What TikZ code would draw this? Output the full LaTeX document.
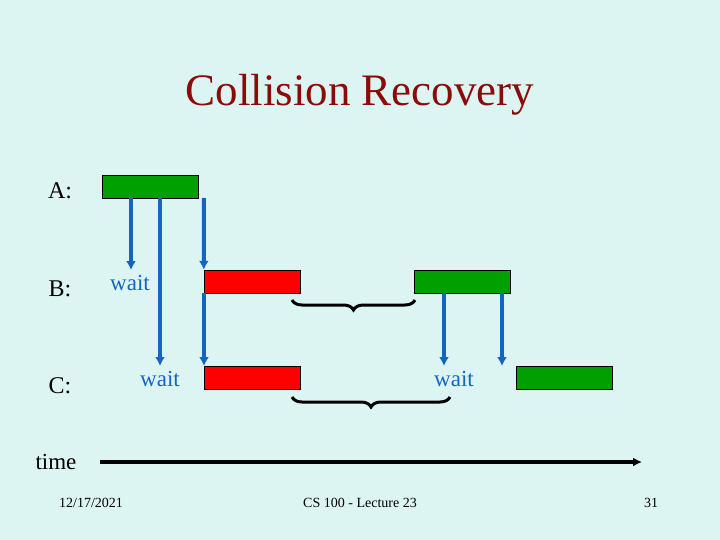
\documentclass[tikz,border=0pt]{standalone}
\usepackage{fontspec}
\setmainfont{Liberation Serif}
\usetikzlibrary{decorations.pathreplacing,arrows.meta}
\definecolor{bgcol}{HTML}{DDF5F2}
\definecolor{titlecol}{HTML}{8B0A0A}
\definecolor{waitcol}{HTML}{1565C0}
\definecolor{okcol}{HTML}{00A000}
\begin{document}
\begin{tikzpicture}[x=1pt,y=-1pt,
	frame/.style={draw, minimum width=96pt, minimum height=23pt, inner sep=0pt},
	good/.style={frame, fill=okcol},
	bad/.style={frame, fill=red},
	signal/.style={waitcol, line width=4pt, -{Latex[length=9pt,width=10pt]}},
	waitlbl/.style={waitcol, font=\fontsize{23}{23}\selectfont},
	rowlbl/.style={font=\fontsize{24}{24}\selectfont},
	foot/.style={font=\fontsize{14}{14}\selectfont},
	gap/.style={decorate, decoration={brace, amplitude=10pt, mirror}, line width=3pt}]
	\fill[bgcol] (0,0) rectangle (720,540);
	\useasboundingbox (0,0) rectangle (720,540);
	\node[titlecol, font=\fontsize{45}{45}\selectfont] (title) at (360,95) {Collision Recovery};
	\node[rowlbl] (la) at (60,191) {A:};
	\node[rowlbl] (lb) at (60,289) {B:};
	\node[rowlbl] (lc) at (60,386) {C:};
	\node[good] (a1) at (150,186.5) {};
	\node[bad] (b1) at (252,281.5) {};
	\node[good] (b2) at (462,281.5) {};
	\node[bad] (c1) at (252,377.5) {};
	\node[good] (c2) at (564,377.5) {};
	\coordinate (s1) at (131,198);
	\coordinate (e1) at (131,270);
	\coordinate (s2) at (160,198);
	\coordinate (e2) at (160,366);
	\coordinate (s3) at (204,198);
	\coordinate (s4) at (204,293);
	\coordinate (e4) at (204,366);
	\coordinate (s5) at (444,293);
	\coordinate (e5) at (444,366);
	\coordinate (s6) at (502,293);
	\coordinate (e6) at (502,366);
	\draw[signal] (s1) -- (e1);
	\draw[signal] (s2) -- (e2);
	\draw[signal] (s3) -- (b1.north west);
	\draw[signal] (s4) -- (e4);
	\draw[signal] (s5) -- (e5);
	\draw[signal] (s6) -- (e6);
	\node[waitlbl] (w1) at (130,283) {wait};
	\node[waitlbl] (w2) at (160,379) {wait};
	\node[waitlbl] (w3) at (454,379) {wait};
	\coordinate (g1) at (292,300);
	\coordinate (g2) at (415,300);
	\coordinate (g3) at (292,397);
	\coordinate (g4) at (450,397);
	\draw[gap] (g1) -- (g2);
	\draw[gap] (g3) -- (g4);
	\node[font=\fontsize{23}{23}\selectfont] (time) at (56,462) {time};
	\coordinate (t0) at (100,462);
	\coordinate (t1) at (642,462);
	\draw[line width=4pt, -{Latex[length=9pt,width=9pt]}] (t0) -- (t1);
	\node[foot] (date) at (91,503) {12/17/2021};
	\node[foot] (course) at (360,503) {CS 100 - Lecture 23};
	\node[foot] (page) at (651,503) {31};
\end{tikzpicture}
\end{document}
